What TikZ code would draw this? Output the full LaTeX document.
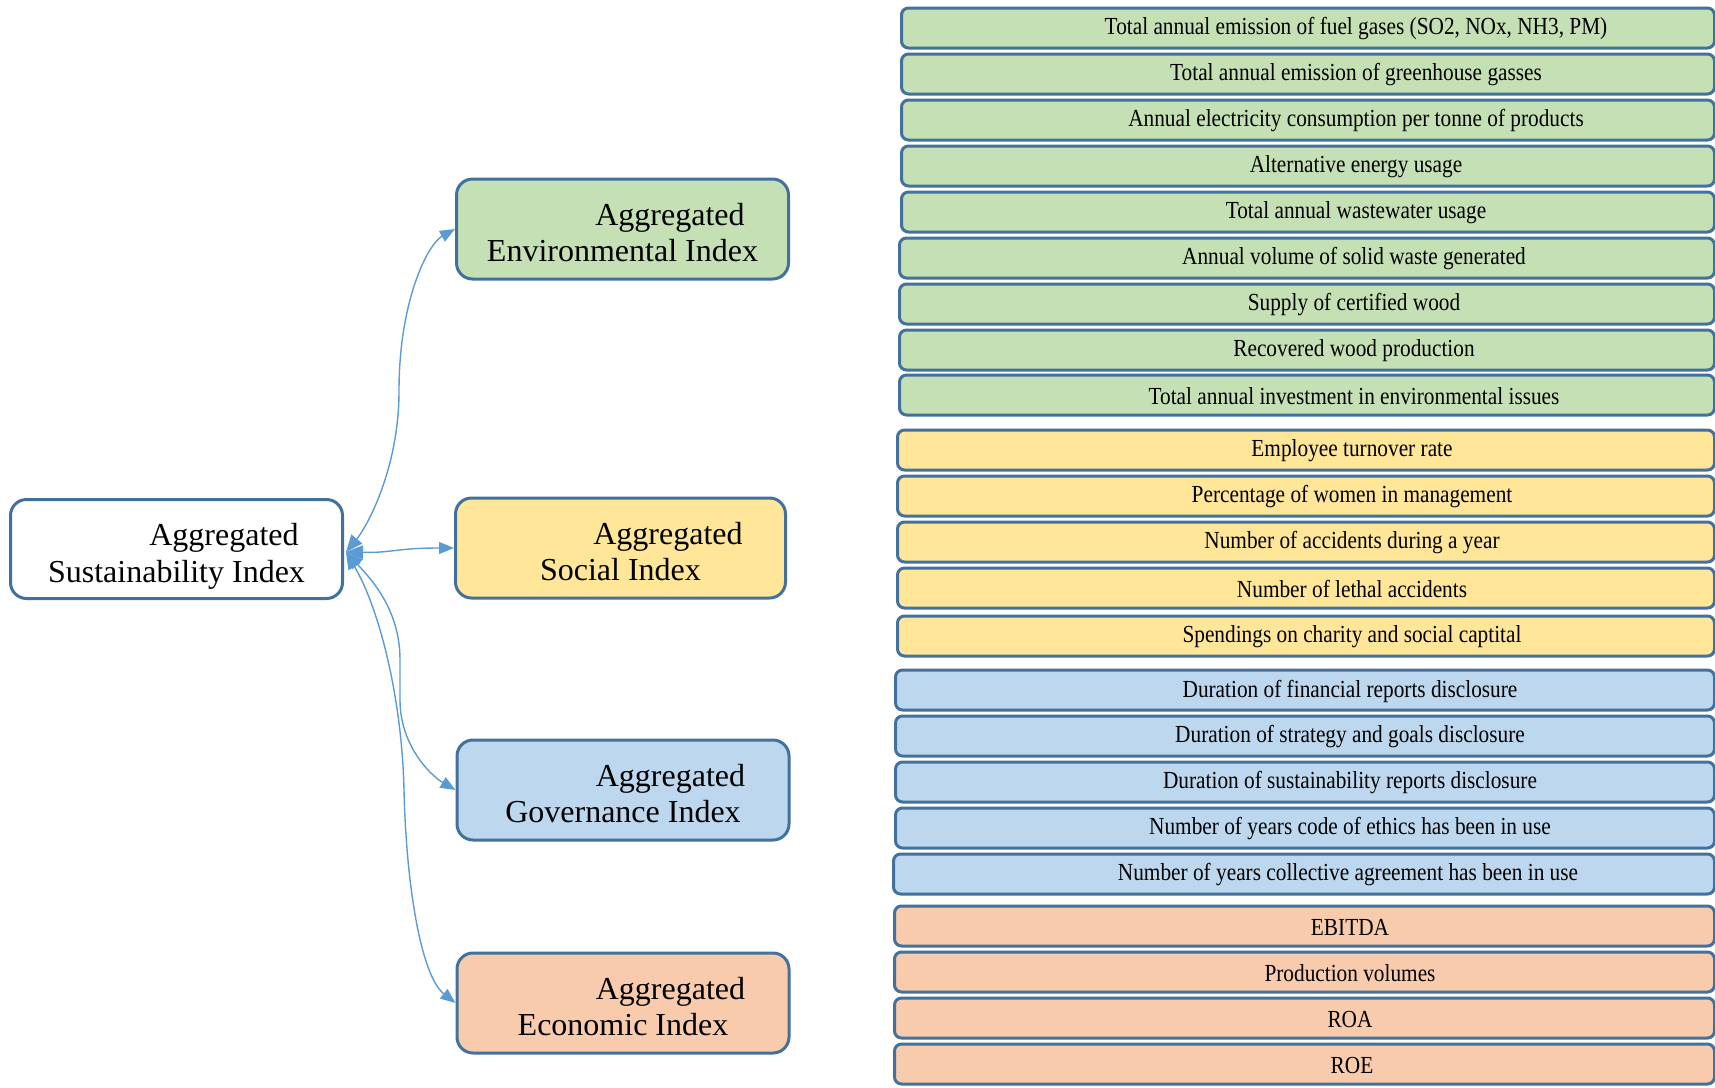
\documentclass[tikz,border=0pt]{standalone}
\usepackage{fontspec}
\usepackage{graphicx}
\setmainfont{Liberation Serif}
\usetikzlibrary{arrows.meta,calc}
\definecolor{cgreen}{HTML}{C5E0B4}
\definecolor{cyellow}{HTML}{FFE699}
\definecolor{cblue}{HTML}{BDD7EE}
\definecolor{corange}{HTML}{F8CBAD}
\definecolor{cborder}{HTML}{41719C}
\definecolor{carrow}{HTML}{5B9BD5}
% name, fill, left edge, centre y, text x, text
\newcommand{\ibox}[6]{%
  \node[rbox, fill=#2, anchor=west, minimum width={1713pt-#3pt}] (#1) at (#3,#4) {};
  \node[rtxt] (#1t) at (#5,#4+1) {\scalebox{1}[1.15]{#6}};
}
\begin{document}
\begin{tikzpicture}[x=1pt,y=-1pt,
  rbox/.style={draw=cborder, line width=3pt, rounded corners=7pt, minimum height=40pt, inner sep=0pt},
  mbox/.style={draw=cborder, line width=3pt, rounded corners=16pt, minimum width=332pt, minimum height=100pt, inner sep=0pt, align=center, font=\fontsize{32}{36.5}\selectfont},
  conn/.style={draw=carrow, line width=1.4pt, {Triangle[length=17pt,width=14pt]}-{Triangle[length=15pt,width=12pt]}},
  rtxt/.style={inner sep=0pt, font=\fontsize{21.3}{24}\selectfont}]
\useasboundingbox (0,0) rectangle (1715,1087);
\clip (0,0) rectangle (1715,1087);

% left node
\node[mbox, fill=white, minimum height=99pt] (L) at (176.5,549) {};
\node (Lt) at (176.5,556.5) [align=center, inner sep=0pt, font=\fontsize{32}{36.5}\selectfont] {\hspace*{95pt}Aggregated\\Sustainability Index};

% middle nodes
\node[mbox, fill=cgreen] (E) at (622.5,229) {};
\node[mbox, fill=cyellow, minimum width=330pt] (S) at (620.5,548) {};
\node[mbox, fill=cblue] (G) at (623,790) {};
\node[mbox, fill=corange] (Ec) at (623,1003) {};
\node[mbox, draw=none] (Et) at (622.5,232.5) {\hspace*{95pt}Aggregated\\Environmental Index};
\node[mbox, draw=none, minimum width=330pt] (St) at (620.5,551.5) {\hspace*{95pt}Aggregated\\Social Index};
\node[mbox, draw=none] (Gt) at (623,793.5) {\hspace*{95pt}Aggregated\\Governance Index};
\node[mbox, draw=none] (Ect) at (623,1006.5) {\hspace*{95pt}Aggregated\\Economic Index};

% right boxes: environmental
\ibox{e1}{cgreen}{900}{28}{1356}{Total annual emission of fuel gases (SO2, NOx, NH3, PM)}
\ibox{e2}{cgreen}{900}{74}{1356}{Total annual emission of greenhouse gasses}
\ibox{e3}{cgreen}{900}{120}{1356}{Annual electricity consumption per tonne of products}
\ibox{e4}{cgreen}{900}{166}{1356}{Alternative energy usage}
\ibox{e5}{cgreen}{900}{212}{1356}{Total annual wastewater usage}
\ibox{e6}{cgreen}{898}{258}{1354}{Annual volume of solid waste generated}
\ibox{e7}{cgreen}{898}{304}{1354}{Supply of certified wood}
\ibox{e8}{cgreen}{898}{350}{1354}{Recovered wood production}
\ibox{e9}{cgreen}{898}{395}{1354}{Total annual investment in environmental issues}
% social
\ibox{s1}{cyellow}{896}{450}{1352}{Employee turnover rate}
\ibox{s2}{cyellow}{896}{496}{1352}{Percentage of women in management}
\ibox{s3}{cyellow}{896}{542}{1352}{Number of accidents during a year}
\ibox{s4}{cyellow}{896}{588}{1352}{Number of lethal accidents}
\ibox{s5}{cyellow}{896}{636}{1352}{Spendings on charity and social captital}
% governance
\ibox{g1}{cblue}{894}{690}{1350}{Duration of financial reports disclosure}
\ibox{g2}{cblue}{894}{736}{1350}{Duration of strategy and goals disclosure}
\ibox{g3}{cblue}{894}{782}{1350}{Duration of sustainability reports disclosure}
\ibox{g4}{cblue}{894}{828}{1350}{Number of years code of ethics has been in use}
\ibox{g5}{cblue}{892}{874}{1348}{Number of years collective agreement has been in use}
% economic
\ibox{c1}{corange}{893}{926}{1350}{EBITDA}
\ibox{c2}{corange}{893}{972}{1350}{Production volumes}
\ibox{c3}{corange}{893}{1018}{1350}{ROA}
\ibox{c4}{corange}{893}{1064}{1352}{ROE}

% connectors
\coordinate (s) at ($(L.east)+(2,3)$);
\draw[conn] (s) .. controls (366,528) and (399,470) .. (399,391) .. controls (399,300) and (428,244) .. (E.west);
\draw[conn] (s) .. controls (392,553) and (396,548) .. (S.west);
\draw[conn] (s) .. controls (372,580) and (400,610) .. (400,660) -- (400,700) .. controls (400,745) and (430,775) .. (G.west);
\draw[conn] (s) .. controls (380,610) and (402,700) .. (404,790) .. controls (406,880) and (420,975) .. (Ec.west);
\end{tikzpicture}
\end{document}
